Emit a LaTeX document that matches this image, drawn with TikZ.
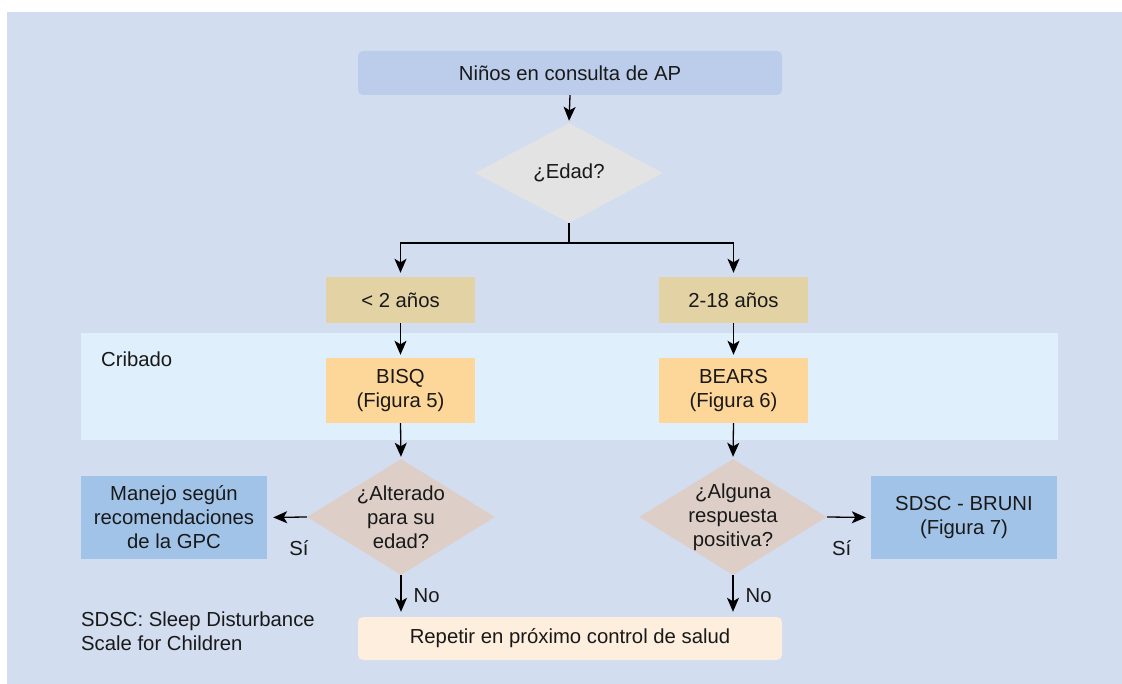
\documentclass[tikz,border=0pt]{standalone}
\usepackage{fontspec}
\setmainfont{Liberation Sans}
\usetikzlibrary{shapes.geometric,arrows.meta}
\definecolor{bgc}{HTML}{D2DDF0}
\definecolor{topc}{HTML}{BBCDEB}
\definecolor{greyc}{HTML}{E3E3E3}
\definecolor{agec}{HTML}{E3D2A4}
\definecolor{bandc}{HTML}{DFF0FC}
\definecolor{scrc}{HTML}{FDD699}
\definecolor{decc}{HTML}{DDCFC7}
\definecolor{bluec}{HTML}{A2C3E8}
\definecolor{repc}{HTML}{FEEEDD}
\begin{document}
\begin{tikzpicture}[x=1pt,y=-1pt,
  font=\fontsize{20.3}{24}\selectfont,
  every node/.style={inner sep=0pt, align=center, text=black!90},
  roundbox/.style={rounded corners=5pt, minimum width=424, minimum height=44},
  agebox/.style={fill=agec, minimum width=149, minimum height=46},
  scrbox/.style={fill=scrc, minimum width=149, minimum height=65},
  bluebox/.style={fill=bluec, minimum width=186, minimum height=83},
  decision/.style={diamond, fill=decc, minimum width=188, minimum height=116},
  arr/.style={-{Stealth[length=14pt,width=12pt,inset=3.5pt]}, line width=1.3pt, black},
  ln/.style={line width=1.3pt, black}]
\useasboundingbox (0,0) rectangle (1122,684);
\fill[bgc] (7,12) rectangle (1122,684);
\node[fill=bandc, minimum width=977, minimum height=107, anchor=north west] (band) at (81,333) {};
\node[anchor=west] (crib) at (101,359) {Cribado};

\node[roundbox, fill=topc] (top) at (570,73) {Niños en consulta de AP};
\node[diamond, fill=greyc, minimum width=188, minimum height=100, label={center:¿Edad?}] (edad) at (569,173) {};
\coordinate (split) at (569,243);
\node[agebox] (a2) at (400.5,300) {< 2 años};
\node[agebox] (a18) at (733.5,300) {2-18 años};
\node[scrbox] (bisq) at (400.5,390.5) {BISQ\\(Figura 5)};
\node[scrbox] (bears) at (733.5,390.5) {BEARS\\(Figura 6)};
\node[decision, label={center:¿Alterado\\para su\\edad?}] (alt) at (401,517) {};
\node[decision, label={center:¿Alguna\\respuesta\\positiva?}] (alg) at (733,517) {};
\node[bluebox] (man) at (174,517.5) {Manejo según\\recomendaciones\\de la GPC};
\node[bluebox] (bruni) at (964,517.5) {SDSC - BRUNI\\(Figura 7)};
\node[roundbox, fill=repc, minimum height=43] (rep) at (570,638.5) {Repetir en próximo control de salud};
\node[anchor=north west, align=left] (note) at (81,612) {SDSC: Sleep Disturbance\\Scale for Children};

\draw[arr, shorten >=2pt] (top.south) -- (edad.north);
\draw[ln] (edad.south) -- (split);
\draw[arr, shorten >=4pt] (split) -| (a2.north);
\draw[arr, shorten >=4pt] (split) -| (a18.north);
\draw[arr, shorten >=3pt] (a2.south) -- (bisq.north);
\draw[arr, shorten >=3pt] (a18.south) -- (bears.north);
\draw[arr, shorten >=2pt] (bisq.south) -- (alt.north);
\draw[arr, shorten >=2pt] (bears.south) -- (alg.north);
\draw[arr, shorten >=6pt] (alt.west) -- (man.east) node[pos=0.2, below=23pt] {Sí};
\draw[arr, shorten >=5pt] (alg.east) -- (bruni.west) node[pos=0.33, below=23pt] {Sí};
\draw[arr, shorten >=5pt] (alt.south) -- (alt.south |- rep.north) node[midway, right=12pt] {No};
\draw[arr, shorten >=5pt] (alg.south) -- (alg.south |- rep.north) node[midway, right=12pt] {No};
\end{tikzpicture}
\end{document}
